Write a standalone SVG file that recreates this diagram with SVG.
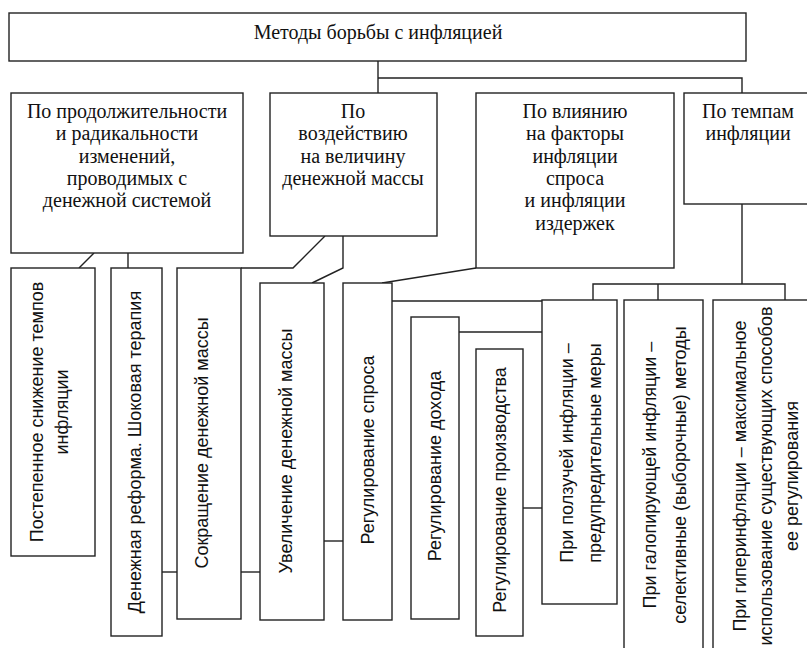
<svg xmlns="http://www.w3.org/2000/svg" width="807" height="648" viewBox="0 0 807 648">
<style>
.box{fill:#fff;stroke:#222;stroke-width:1.4}
.conn{fill:none;stroke:#222;stroke-width:1.4}
.t{font-family:"Liberation Serif",serif;font-size:20px;fill:#111;text-anchor:middle}
.h{font-family:"Liberation Serif",serif;font-size:20px;fill:#111;text-anchor:middle}
.v{font-family:"Liberation Sans",Arial,sans-serif;font-size:18px;fill:#111;text-anchor:middle}
</style>
<rect width="807" height="648" fill="#fff"/>
<g id="connectors">
<path class="conn" d="M378,61V93"/>
<path class="conn" d="M378,78H742V93"/>
<path class="conn" d="M94,253L79,268"/>
<path class="conn" d="M128,253V268"/>
<path class="conn" d="M162,572H177"/>
<path class="conn" d="M241,572H260"/>
<path class="conn" d="M325,236L293,268H241"/>
<path class="conn" d="M343,236V268L312,283"/>
<path class="conn" d="M324,541H343"/>
<path class="conn" d="M476,268L382,283"/>
<path class="conn" d="M392,301H542"/>
<path class="conn" d="M459,332H542"/>
<path class="conn" d="M523,508H542"/>
<path class="conn" d="M742,204V284"/>
<path class="conn" d="M593,300V284H785V300"/>
<path class="conn" d="M658,284V300"/>
</g>
<g id="root">
<rect class="box" x="9" y="13" width="737" height="48"/>
<text class="t" x="378" y="39">Методы борьбы с инфляцией</text>
</g>
<g id="cat1">
<rect class="box" x="11" y="93" width="232" height="160"/>
<text class="h"><tspan x="127" y="118">По продолжительности</tspan><tspan x="127" y="140.3">и радикальности</tspan><tspan x="127" y="162.6">изменений,</tspan><tspan x="127" y="184.9">проводимых с</tspan><tspan x="127" y="207.2">денежной системой</tspan></text>
</g>
<g id="cat2">
<rect class="box" x="270" y="93" width="167" height="143"/>
<text class="h"><tspan x="353" y="118">По</tspan><tspan x="353" y="140.3">воздействию</tspan><tspan x="353" y="162.6">на величину</tspan><tspan x="353" y="184.9">денежной массы</tspan></text>
</g>
<g id="cat3">
<rect class="box" x="476" y="93" width="198" height="175"/>
<text class="h"><tspan x="575" y="118">По влиянию</tspan><tspan x="575" y="140.3">на факторы</tspan><tspan x="575" y="162.6">инфляции</tspan><tspan x="575" y="184.9">спроса</tspan><tspan x="575" y="207.2">и инфляции</tspan><tspan x="575" y="229.5">издержек</tspan></text>
</g>
<g id="cat4">
<rect class="box" x="684" y="93" width="130" height="111"/>
<text class="h"><tspan x="748" y="118">По темпам</tspan><tspan x="748" y="140.3">инфляции</tspan></text>
</g>
<g id="b1">
<rect class="box" x="11" y="268" width="84" height="288"/>
<text class="v" transform="translate(43,412) rotate(-90)"><tspan x="0" y="0">Постепенное снижение темпов</tspan><tspan x="0" y="25">инфляции</tspan></text>
</g>
<g id="b2">
<rect class="box" x="111" y="268" width="51" height="368"/>
<text class="v" transform="translate(141,452) rotate(-90)">Денежная реформа. Шоковая терапия</text>
</g>
<g id="b3">
<rect class="box" x="177" y="268" width="64" height="351"/>
<text class="v" transform="translate(208,443) rotate(-90)">Сокращение денежной массы</text>
</g>
<g id="b4">
<rect class="box" x="260" y="283" width="64" height="337"/>
<text class="v" transform="translate(292,451) rotate(-90)">Увеличение денежной массы</text>
</g>
<g id="b5">
<rect class="box" x="343" y="283" width="49" height="337"/>
<text class="v" transform="translate(374,450) rotate(-90)">Регулирование спроса</text>
</g>
<g id="b6">
<rect class="box" x="411" y="317" width="48" height="302"/>
<text class="v" transform="translate(441,466) rotate(-90)">Регулирование дохода</text>
</g>
<g id="b7">
<rect class="box" x="476" y="349" width="47" height="287"/>
<text class="v" transform="translate(506,490) rotate(-90)">Регулирование производства</text>
</g>
<g id="b8">
<rect class="box" x="542" y="300" width="75" height="304"/>
<text class="v" transform="translate(573,453) rotate(-90)"><tspan x="0" y="0">При ползучей инфляции –</tspan><tspan x="0" y="28">предупредительные меры</tspan></text>
</g>
<g id="b9">
<rect class="box" x="624" y="300" width="79" height="352"/>
<text class="v" transform="translate(656,475) rotate(-90)"><tspan x="0" y="0">При галопирующей инфляции –</tspan><tspan x="0" y="30">селективные (выборочные) методы</tspan></text>
</g>
<g id="b10">
<rect class="box" x="713" y="300" width="106" height="352"/>
<text class="v" transform="translate(746,476) rotate(-90)"><tspan x="0" y="0">При гиперинфляции – максимальное</tspan><tspan x="0" y="26">использование существующих способов</tspan><tspan x="0" y="52">ее регулирования</tspan></text>
</g>
</svg>
